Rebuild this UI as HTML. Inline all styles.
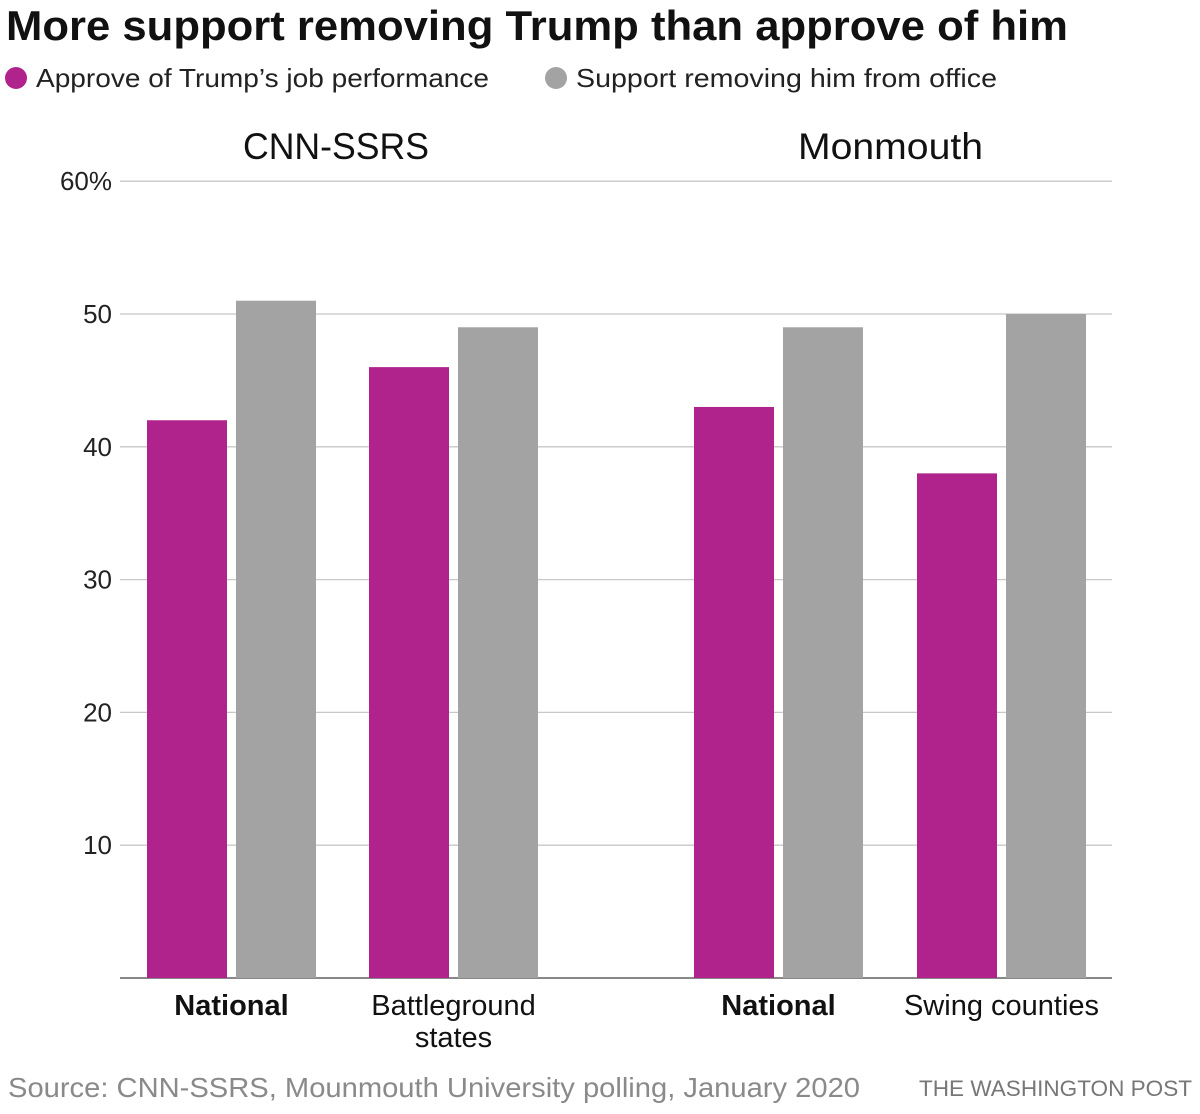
<!DOCTYPE html>
<html><head><meta charset="utf-8"><style>
body{margin:0;background:#fff;font-family:"Liberation Sans",sans-serif;}
#wrap{position:relative;width:1200px;height:1114px;overflow:hidden}
</style></head><body>
<div id="wrap">
<svg id="svg" width="1200" height="1114" xmlns="http://www.w3.org/2000/svg">
<text x="6" y="40" font-size="42" font-weight="bold" fill="#111" textLength="1062" lengthAdjust="spacingAndGlyphs">More support removing Trump than approve of him</text>
<g>
<circle cx="16" cy="78" r="11" fill="#b0238d"/>
<text x="36" y="87" font-size="26" fill="#222" textLength="453" lengthAdjust="spacingAndGlyphs">Approve of Trump’s job performance</text>
<circle cx="556" cy="78" r="11" fill="#a3a3a3"/>
<text x="576" y="87" font-size="26" fill="#222" textLength="421" lengthAdjust="spacingAndGlyphs">Support removing him from office</text>
</g>
<text x="243" y="159" font-size="37" fill="#111" textLength="186" lengthAdjust="spacingAndGlyphs">CNN-SSRS</text>
<text x="798" y="159" font-size="37" fill="#111" textLength="185" lengthAdjust="spacingAndGlyphs">Monmouth</text>
<g id="grid"></g><g id="bars"></g><g id="labels"></g>
<text x="8" y="1097" font-size="28" fill="#8a8a8a" textLength="852" lengthAdjust="spacingAndGlyphs">Source: CNN-SSRS, Mounmouth University polling, January 2020</text>
<text x="1192" y="1096" font-size="22" fill="#777" text-anchor="end" textLength="273" lengthAdjust="spacingAndGlyphs">THE WASHINGTON POST</text>
</svg>
</div>
<script>
const categories=[["National"],["Battleground","states"],["National"],["Swing counties"]];
const boldCats=[true,false,true,false];
const approve=[42,46,43,38];
const removeVals=[51,49,49,50];
const ticks=[0,10,20,30,40,50,60];
const tickLabels=["","10","20","30","40","50","60%"];
const ns="http://www.w3.org/2000/svg";
const y0=978,pxPer=13.28;
const y=v=>y0-v*pxPer;
const groupX=[147,369,694,917];
function mk(t,a,p){const e=document.createElementNS(ns,t);for(const k in a)e.setAttribute(k,a[k]);p.appendChild(e);return e;}
const grid=document.getElementById('grid');
ticks.forEach((t,i)=>{
 if(t>0){const l=mk('line',{x1:120,x2:1112,y1:y(t),y2:y(t),stroke:'#c8c8c8','stroke-width':1.3},grid);
 
 }
 const tx=mk('text',{x:112,y:y(t)+9,'font-size':26,'text-anchor':'end',fill:'#222'},grid);
 tx.textContent=tickLabels[i];
 
 
});
const ax=mk('line',{x1:120,x2:1112,y1:y0,y2:y0,stroke:'#888','stroke-width':2},grid);


const bars=document.getElementById('bars'),labels=document.getElementById('labels');
categories.forEach((c,i)=>{
 const x=groupX[i];
 const b1=mk('rect',{x:x,y:y(approve[i]),width:80,height:approve[i]*pxPer,fill:'#b0238d'},bars);
 
 
 const b2=mk('rect',{x:x+89,y:y(removeVals[i]),width:80,height:removeVals[i]*pxPer,fill:'#a3a3a3'},bars);
 
 
 c.forEach((line,j)=>{
  const t=mk('text',{x:x+84.5,y:1015+j*32,'font-size':29,'text-anchor':'middle',fill:'#111','font-weight':boldCats[i]?'bold':'normal'},labels);
  t.textContent=line;
  
  
 });
});
</script>
</body></html>
